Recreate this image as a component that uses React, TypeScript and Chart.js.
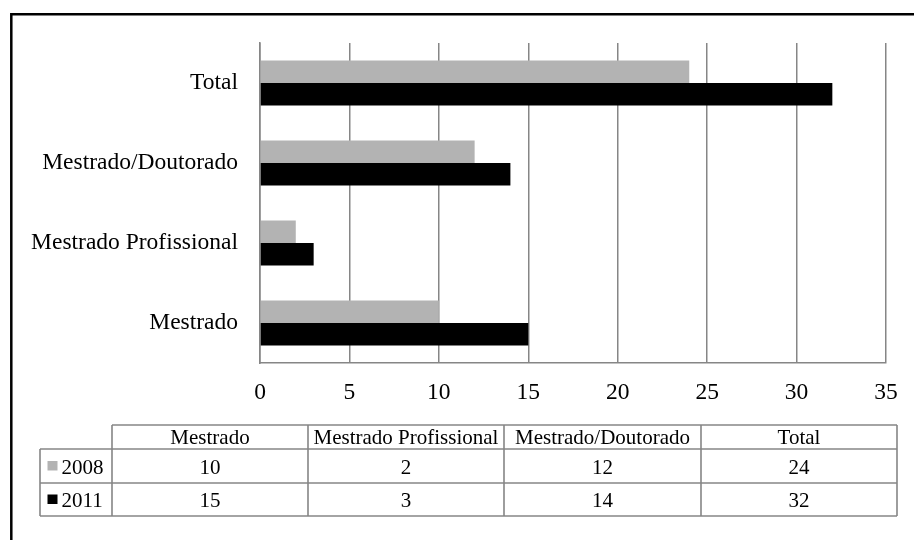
import React, { useEffect, useRef } from "react";
import { Chart, registerables } from "chart.js";

Chart.register(...registerables);

// Categories in table order (bottom to top in the bar plot)
const categories = ["Mestrado", "Mestrado Profissional", "Mestrado/Doutorado", "Total"];
const seriesNames = ["2008", "2011"];
const values2008 = [10, 2, 12, 24];
const values2011 = [15, 3, 14, 32];
const seriesColors = ["#b3b3b3", "#000000"];
const axisMin = 0;
const axisMax = 35;
const axisStep = 5;

const FONT = "'Liberation Serif', 'Times New Roman', serif";
const LINE = "#868686";

// Outer black frame around the figure
const framePlugin = {
  id: "frame",
  beforeDraw(chart: any) {
    const ctx = chart.ctx;
    ctx.save();
    ctx.fillStyle = "#ffffff";
    ctx.fillRect(0, 0, chart.width, chart.height);
    ctx.strokeStyle = "#000000";
    ctx.lineWidth = 2.5;
    ctx.beginPath();
    ctx.moveTo(11.3, chart.height + 5);
    ctx.lineTo(11.3, 14.3);
    ctx.lineTo(chart.width + 5, 14.3);
    ctx.stroke();
    ctx.restore();
  },
};

// Data table drawn below the x axis
const dataTablePlugin = {
  id: "dataTable",
  afterDraw(chart: any) {
    const ctx = chart.ctx;
    const colX = [112, 308, 504, 701, 897];
    const legendLeft = 40;
    const rowY = [425, 449, 483, 516];
    const labels: string[] = chart.data.labels;
    const datasets = chart.data.datasets;

    ctx.save();
    ctx.strokeStyle = LINE;
    ctx.lineWidth = 1.6;
    ctx.beginPath();
    // header top
    ctx.moveTo(colX[0], rowY[0]);
    ctx.lineTo(colX[colX.length - 1], rowY[0]);
    // row separators
    for (let r = 1; r < rowY.length; r++) {
      ctx.moveTo(legendLeft, rowY[r]);
      ctx.lineTo(colX[colX.length - 1], rowY[r]);
    }
    // column separators
    for (const x of colX) {
      ctx.moveTo(x, rowY[0]);
      ctx.lineTo(x, rowY[rowY.length - 1]);
    }
    ctx.moveTo(legendLeft, rowY[1]);
    ctx.lineTo(legendLeft, rowY[rowY.length - 1]);
    ctx.stroke();

    ctx.fillStyle = "#000000";
    ctx.font = `21px ${FONT}`;
    ctx.textAlign = "center";
    ctx.textBaseline = "alphabetic";
    labels.forEach((lab, i) => {
      const cx = (colX[i] + colX[i + 1]) / 2;
      ctx.fillText(lab, cx, 443.5);
    });

    datasets.forEach((ds: any, r: number) => {
      const top = rowY[r + 1];
      const bottom = rowY[r + 2];
      const baseline = (top + bottom) / 2 + 7.5;
      ds.data.forEach((v: number, i: number) => {
        const cx = (colX[i] + colX[i + 1]) / 2;
        ctx.fillStyle = "#000000";
        ctx.textAlign = "center";
        ctx.fillText(String(v), cx, baseline);
      });
      // legend key
      const mid = (top + bottom) / 2;
      ctx.fillStyle = ds.backgroundColor;
      ctx.fillRect(47.5, mid - 5, 10, 9.5);
      ctx.fillStyle = "#000000";
      ctx.textAlign = "left";
      ctx.fillText(ds.label, 61.5, baseline);
    });
    ctx.restore();
  },
};

export default function App() {
  const canvasRef = useRef<HTMLCanvasElement | null>(null);

  useEffect(() => {
    const canvas = canvasRef.current;
    if (!canvas) return;
    const chart = new Chart(canvas, {
      type: "bar",
      data: {
        labels: categories,
        datasets: [
          {
            label: seriesNames[0],
            data: values2008,
            backgroundColor: seriesColors[0],
            borderWidth: 0,
            categoryPercentage: 0.56,
            barPercentage: 1,
          },
          {
            label: seriesNames[1],
            data: values2011,
            backgroundColor: seriesColors[1],
            borderWidth: 0,
            categoryPercentage: 0.56,
            barPercentage: 1,
          },
        ],
      },
      options: {
        indexAxis: "y",
        responsive: false,
        animation: false,
        layout: { padding: { top: 43, right: 28, left: 0, bottom: 0 } },
        plugins: {
          legend: { display: false },
          tooltip: { enabled: false },
        },
        scales: {
          x: {
            min: axisMin,
            max: axisMax,
            ticks: {
              stepSize: axisStep,
              color: "#000000",
              font: { family: FONT, size: 23.5 },
              padding: 16,
            },
            grid: { color: LINE, lineWidth: 1.5, drawTicks: false },
            border: { color: LINE, width: 1.6 },
            afterFit: (scale: any) => {
              scale.height = 177;
            },
          },
          y: {
            reverse: true,
            ticks: {
              color: "#000000",
              font: { family: FONT, size: 23.5 },
              padding: 22,
            },
            grid: { display: false, drawTicks: false },
            border: { color: LINE, width: 1.6 },
            afterFit: (scale: any) => {
              scale.width = 260;
            },
          },
        },
      },
      plugins: [framePlugin, dataTablePlugin],
    });
    return () => chart.destroy();
  }, []);

  return (
    <div style={{ position: "fixed", left: 0, top: 0, width: 914, height: 540 }}>
      <canvas ref={canvasRef} width={914} height={540} style={{ display: "block" }} />
    </div>
  );
}
